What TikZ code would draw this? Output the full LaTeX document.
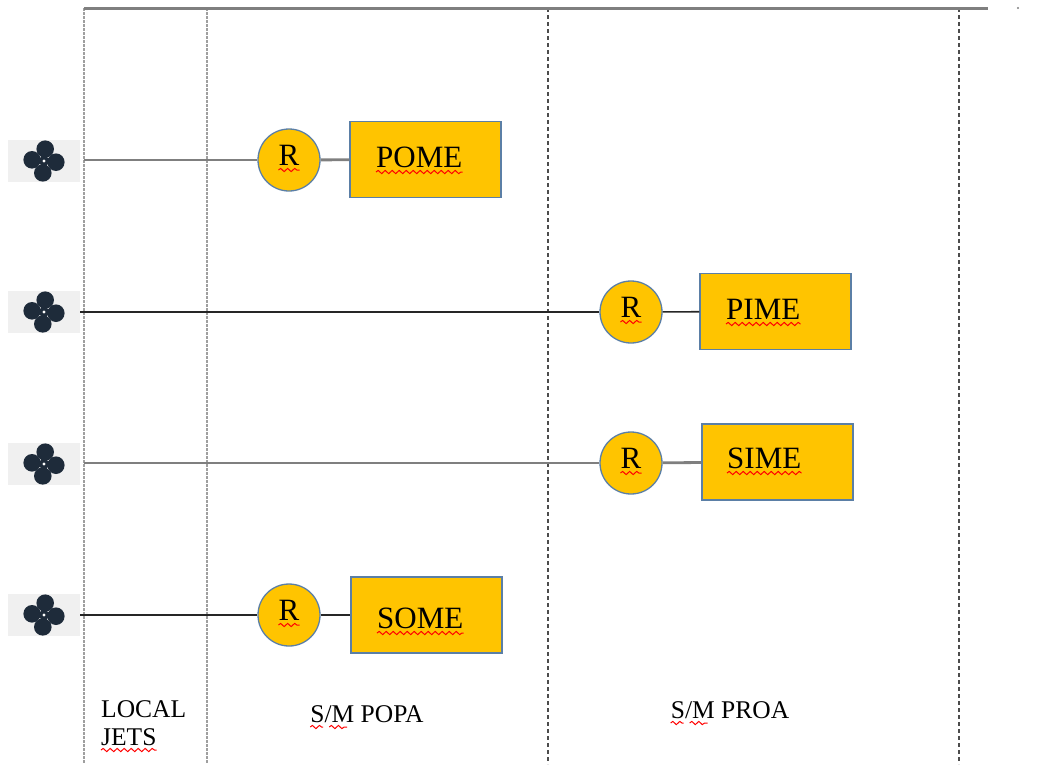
\documentclass[tikz,border=0pt]{standalone}
\usepackage{fontspec}
\setmainfont{Liberation Serif}
\usetikzlibrary{decorations.pathmorphing}
\definecolor{gold}{HTML}{FFC400}
\definecolor{edgeblue}{HTML}{5B7FA6}
\definecolor{fanblue}{HTML}{1E2B3A}
\definecolor{fanbg}{HTML}{F0F0F0}
\definecolor{lgray}{HTML}{7F7F7F}
\definecolor{dline}{HTML}{262626}
\begin{document}
\begin{tikzpicture}[x=1pt,y=-1pt,
  sepgray/.style={draw=gray!75, line width=2pt, dash pattern=on 2.5pt off 1.5pt},
  sepdark/.style={draw=black!70, line width=1.3pt, dash pattern=on 4pt off 3pt},
  grayline/.style={draw=lgray, line width=2.8pt},
  darkline/.style={draw=dline, line width=1.6pt},
  rbox/.style={rectangle, draw=edgeblue, line width=1.3pt, fill=gold, minimum width=151pt, minimum height=76pt, inner sep=0pt},
  rcirc/.style={circle, draw=edgeblue, line width=1.3pt, fill=gold, minimum size=62pt, inner sep=0pt},
  txt/.style={inner sep=0pt, font=\fontsize{31}{31}\selectfont},
  lbl/.style={inner sep=0pt, font=\fontsize{25.5}{25.5}\selectfont},
  fanbox/.style={rectangle, fill=fanbg, minimum width=72pt, minimum height=42pt, inner sep=0pt},
  squig/.style={draw=red, line width=1pt, decorate, decoration={snake, amplitude=1.6pt, segment length=7pt}},
  fan/.pic={
    \fill[fanblue] (0,0) circle (5);
    \foreach \a in {0,90,180,270}{
      \fill[fanblue, rotate=\a] (0,0) -- (-4,-6) -- (5,-6) -- cycle;
      \fill[fanblue, rotate=\a] (1.2,-12) ellipse (8.8 and 8.6);
    }
    \fill[white] (0,0) circle (1.7);
  }]
\useasboundingbox (0,0) rectangle (1051,764);

% column separators
\coordinate (t1) at (84,8);   \coordinate (b1) at (84,764);
\coordinate (t2) at (207,8);  \coordinate (b2) at (207,764);
\coordinate (t3) at (548,8);  \coordinate (b3) at (548,764);
\coordinate (t4) at (959,8);  \coordinate (b4) at (959,764);
\draw[sepgray] (t1) -- (b1);
\draw[sepgray] (t2) -- (b2);
\draw[sepdark] (t3) -- (b3);
\draw[sepdark] (t4) -- (b4);
\coordinate (tend) at (988,8);
\draw[draw=lgray, line width=3pt] (t1) -- (tend);
\fill[lgray] (1018,8) circle (1.2);

% fans
\node[fanbox] (fanA) at (44,161) {};
\node[fanbox] (fanB) at (44,312) {};
\node[fanbox] (fanC) at (44,464) {};
\node[fanbox] (fanD) at (44,615) {};
\pic at (fanA.center) {fan};
\pic at (fanB.center) {fan};
\pic at (fanC.center) {fan};
\pic at (fanD.center) {fan};

% rows
\coordinate (sA) at (84,160);
\coordinate (sB) at (80,312);
\coordinate (sC) at (84,463);
\coordinate (sD) at (80,615);

\node[rcirc] (rA) at (289,160) {};
\node[rcirc] (rB) at (631,312) {};
\node[rcirc] (rC) at (631,463) {};
\node[rcirc] (rD) at (289,615) {};

\node[rbox] (bA) at (425.5,159.5) {};
\node[rbox] (bB) at (775.5,311.5) {};
\node[rbox] (bC) at (777.5,462) {};
\node[rbox] (bD) at (426.5,615) {};

\draw[grayline] (sA) -- (rA);
\draw[grayline] (rA) -- (bA);
\draw[darkline] (sB) -- (rB);
\draw[darkline] (rB) -- (bB);
\draw[grayline] (sC) -- (rC);
\draw[grayline] (rC) -- (bC);
\draw[darkline] (sD) -- (rD);
\draw[darkline] (rD) -- (bD);

% texts in circles
\node[txt, anchor=base] (rtA) at (289,165) {R};
\node[txt, anchor=base] (rtB) at (631,317) {R};
\node[txt, anchor=base] (rtC) at (631,468) {R};
\node[txt, anchor=base] (rtD) at (289,620) {R};

% texts in boxes
\node[txt, anchor=base west] (btA) at (376,167) {POME};
\node[txt, anchor=base west] (btB) at (726,319) {PIME};
\node[txt, anchor=base west] (btC) at (727,468) {SIME};
\node[txt, anchor=base west] (btD) at (377,628) {SOME};

% column labels
\node[lbl, anchor=base west] (lj1) at (101,717) {LOCAL};
\node[lbl, anchor=base west] (lj2) at (101,745) {JETS};
\node[lbl, anchor=base] (lpopa) at (367,722) {S/M POPA};
\node[lbl, anchor=base] (lproa) at (730,718) {S/M PROA};

% spelling squiggles
\foreach \n in {rtA,rtB,rtC,rtD,btA,btB,btC,btD}{
  \draw[squig] ([yshift=-5pt]\n.base west) -- ([yshift=-5pt]\n.base east);
}
\draw[squig] ([yshift=-5pt]lj2.base west) -- ([yshift=-5pt]lj2.base east);
\foreach \n in {lpopa,lproa}{
  \draw[squig] ([yshift=-5pt]\n.base west) -- ([xshift=13pt,yshift=-5pt]\n.base west);
  \draw[squig] ([xshift=19pt,yshift=-5pt]\n.base west) -- ([xshift=37pt,yshift=-5pt]\n.base west);
}
\end{tikzpicture}
\end{document}
